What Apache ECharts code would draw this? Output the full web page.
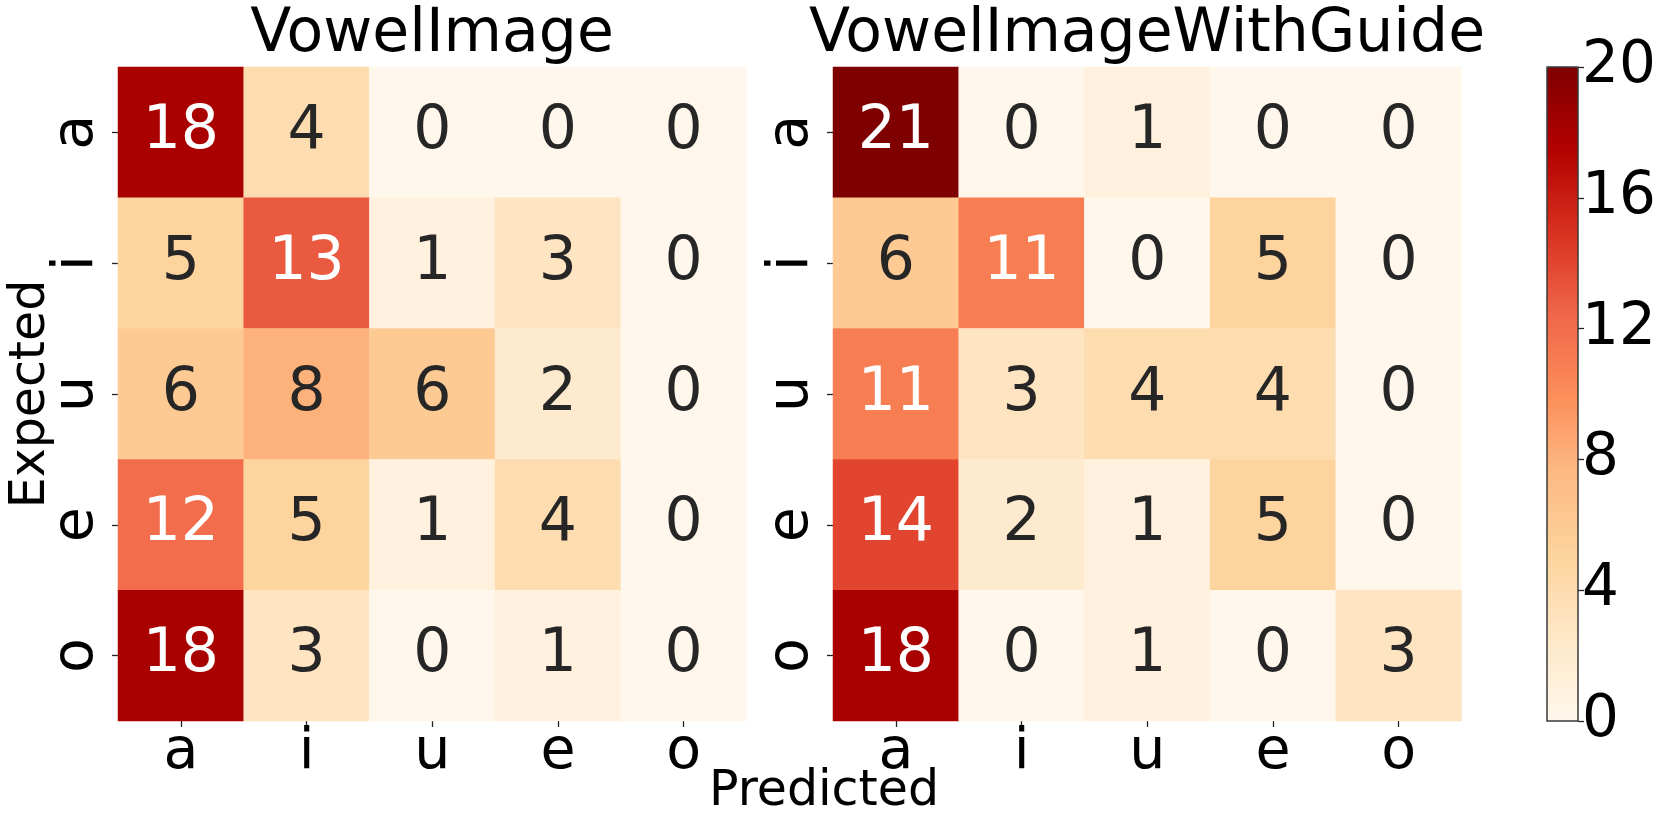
<!DOCTYPE html>
<html>
<head>
<meta charset="utf-8">
<script src="https://cdn.jsdelivr.net/npm/echarts@6/dist/echarts.min.js"></script>
<style>html,body{margin:0;padding:0;background:#fff;}#c{width:1661px;height:831px;}</style>
</head>
<body>
<div id="c"></div>
<script>
// ---- data ----
const predicted = ['a', 'i', 'u', 'e', 'o'];
const expected = ['a', 'i', 'u', 'e', 'o'];
const titles = ['VowelImage', 'VowelImageWithGuide'];
const vowelImage = [
  [18, 4, 0, 0, 0],
  [5, 13, 1, 3, 0],
  [6, 8, 6, 2, 0],
  [12, 5, 1, 4, 0],
  [18, 3, 0, 1, 0]
];
const vowelImageWithGuide = [
  [21, 0, 1, 0, 0],
  [6, 11, 0, 5, 0],
  [11, 3, 4, 4, 0],
  [14, 2, 1, 5, 0],
  [18, 0, 1, 0, 3]
];
const colorbarTicks = [0, 4, 8, 12, 16, 20];
const vmin = 0, vmax = 20;
const orRd = ['#fff7ec', '#fee8c8', '#fdd49e', '#fdbb84', '#fc8d59', '#ef6548', '#d7301f', '#b30000', '#7f0000'];

// ---- helpers ----
const FONT = '"DejaVu Sans", "Liberation Sans", sans-serif';
function hex2rgb(h) { return [1, 3, 5].map(i => parseInt(h.substr(i, 2), 16) / 255); }
function cmap(v) {
  let t = Math.max(0, Math.min(1, (v - vmin) / (vmax - vmin))) * (orRd.length - 1);
  const i = Math.min(Math.floor(t), orRd.length - 2), f = t - i;
  const a = hex2rgb(orRd[i]), b = hex2rgb(orRd[i + 1]);
  return a.map((x, k) => x + (b[k] - x) * f);
}
function textColor(v) {
  const c = cmap(v).map(x => x <= 0.03928 ? x / 12.92 : Math.pow((x + 0.055) / 1.055, 2.4));
  const lum = 0.2126 * c[0] + 0.7152 * c[1] + 0.0722 * c[2];
  return lum > 0.408 ? '#262626' : '#ffffff';
}
function toData(m) {
  const out = [];
  m.forEach((row, r) => row.forEach((v, c) => out.push({ value: [c, r, v], label: { color: textColor(v) } })));
  return out;
}

const gridW = 628.5, gridH = 654, gridTop = 67;
const grids = [
  { left: 118, top: gridTop, width: gridW, height: gridH },
  { left: 833, top: gridTop, width: gridW, height: gridH },
  { left: 1547, top: gridTop, width: 31, height: gridH, show: true, borderColor: '#3a3a3a', borderWidth: 1.5, backgroundColor: 'transparent', z: 10 }
];

function xAx(gi) {
  return {
    type: 'category', gridIndex: gi, data: predicted, position: 'bottom',
    axisLine: { show: false },
    axisTick: { show: true, alignWithLabel: true, length: 6, lineStyle: { color: '#222', width: 1.3 } },
    axisLabel: { fontSize: 57, fontFamily: FONT, color: '#000', margin: 4 },
    splitLine: { show: false }
  };
}
function yAx(gi, withName) {
  const o = {
    type: 'category', gridIndex: gi, data: expected, inverse: true,
    axisLine: { show: false },
    axisTick: { show: true, alignWithLabel: true, length: 6, lineStyle: { color: '#222', width: 1.3 } },
    axisLabel: { fontSize: 57, fontFamily: FONT, color: '#000', rotate: 90, margin: 12 },
    splitLine: { show: false }
  };
  if (withName) {
    Object.assign(o, {
      name: 'Expected', nameLocation: 'middle', nameGap: 62, nameRotate: 90, nameMoveOverlap: false,
      nameTextStyle: { fontSize: 49, fontFamily: FONT, color: '#000' }
    });
  }
  return o;
}

const option = {
  animation: false,
  backgroundColor: '#ffffff',
  grid: grids,
  xAxis: [xAx(0), xAx(1), { type: 'category', gridIndex: 2, show: false, data: [''] }],
  yAxis: [yAx(0, true), yAx(1, false), {
    type: 'value', gridIndex: 2, min: 0, max: 20, interval: 4, position: 'right',
    axisLine: { show: false },
    axisTick: { show: true, length: 6, lineStyle: { color: '#222', width: 1.3 } },
    axisLabel: { fontSize: 58, fontFamily: FONT, color: '#000', margin: 4,
      formatter: v => (colorbarTicks.indexOf(v) >= 0 ? String(v) : '') },
    splitLine: { show: false }
  }],
  visualMap: {
    type: 'continuous', min: vmin, max: vmax, seriesIndex: [0, 1], dimension: 2,
    inRange: { color: orRd }, calculable: false, orient: 'vertical',
    left: 1547, top: gridTop, itemWidth: 31, itemHeight: gridH, padding: 0, text: null,
    showLabel: false, hoverLink: false, z: 4
  },
  series: [vowelImage, vowelImageWithGuide].map((m, i) => ({
    type: 'heatmap', xAxisIndex: i, yAxisIndex: i, data: toData(m),
    itemStyle: { borderWidth: 0 },
    label: { show: true, fontSize: 60, fontFamily: FONT, formatter: p => String(p.value[2]) },
    emphasis: { disabled: true }
  })),
  graphic: [
    { type: 'text', x: 432, y: 35, style: { text: titles[0], font: '60px ' + FONT, fill: '#000', textAlign: 'center', textVerticalAlign: 'middle', align: 'center', verticalAlign: 'middle' } },
    { type: 'text', x: 1147, y: 35, style: { text: titles[1], font: '60px ' + FONT, fill: '#000', textAlign: 'center', textVerticalAlign: 'middle', align: 'center', verticalAlign: 'middle' } },
    { type: 'text', x: 824, y: 792, style: { text: 'Predicted', font: '49px ' + FONT, fill: '#000', textAlign: 'center', textVerticalAlign: 'middle', align: 'center', verticalAlign: 'middle' } }
  ]
};

const chart = echarts.init(document.getElementById('c'), null, { renderer: 'canvas' });
chart.setOption(option);
</script>
</body>
</html>
